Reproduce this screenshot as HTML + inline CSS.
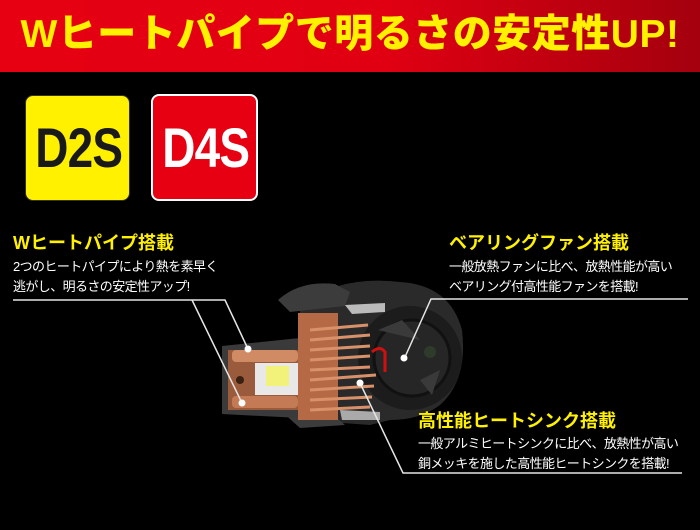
<!DOCTYPE html>
<html><head><meta charset="utf-8"><style>
html,body{margin:0;padding:0;background:#000;}
#w{position:relative;width:700px;height:530px;overflow:hidden;background:#000;font-family:"Liberation Sans","Noto Sans CJK JP",sans-serif;}
.band{position:absolute;left:0;top:0;width:700px;height:72px;background:linear-gradient(90deg,#e60012 0%,#e00012 55%,#a4000e 100%);}
.title{position:absolute;left:0;top:11px;width:700px;text-align:center;color:#fff100;font-weight:900;font-size:39px;line-height:48px;letter-spacing:0.5px;white-space:nowrap;}
.badge{position:absolute;border-radius:8px;}
.badge span{position:absolute;left:0;top:0;width:100%;text-align:center;font-weight:bold;font-size:56px;line-height:104px;transform:scaleX(0.82);letter-spacing:-1px;}
.h{position:absolute;color:#fff100;font-weight:bold;font-size:18px;line-height:22px;white-space:nowrap;}
.t{position:absolute;color:#fff;font-size:13px;line-height:20px;white-space:nowrap;letter-spacing:-0.6px;}
svg{position:absolute;left:0;top:0;}
</style></head><body><div id="w">
<div class="band"></div>
<div class="title">Wヒートパイプで明るさの安定性UP!</div>
<div class="badge" style="left:25px;top:95px;width:103px;height:104px;background:#fff100;color:#1a1a1a;border:1px solid #333;"><span>D2S</span></div>
<div class="badge" style="left:151px;top:94px;width:103px;height:103px;background:#e60012;color:#fff;border:2px solid #fff;"><span>D4S</span></div>

<svg width="700" height="530" viewBox="0 0 700 530">
<path d="M300 305 Q340 275 400 282 Q450 285 462 330 Q468 380 440 405 Q420 420 390 420 L370 425 L300 420 Z" fill="#2a2a2a"/>
<circle cx="410" cy="358" r="52" fill="#1c1c1c"/>
<circle cx="412" cy="358" r="38" fill="#262626" stroke="#111" stroke-width="3"/>
<path d="M378 330 L402 320 L420 340 Z M420 380 L440 370 L432 395 Z" fill="#3a3a3a"/>
<circle cx="430" cy="352" r="6" fill="#2e3a2a"/>
<path d="M278 300 Q300 280 335 284 L350 292 L345 306 L290 312 Z" fill="#3c3c3c"/>
<path d="M280 410 L330 412 L345 425 L300 428 Z" fill="#3c3c3c"/>
<path d="M345 305 L385 303 L385 312 L352 314 Z" fill="#bbb"/>
<path d="M340 410 L380 412 L380 420 L342 420 Z" fill="#aaa"/>
<path d="M222 346 L300 338 L300 418 L222 414 Z" fill="#3a3a3a"/>
<rect x="228" y="350" width="72" height="60" fill="#9a5a3c"/>
<rect x="232" y="350" width="66" height="12" rx="4" fill="#d08a64"/>
<rect x="232" y="396" width="66" height="12" rx="4" fill="#c47a55"/>
<rect x="255" y="363" width="45" height="32" fill="#e8e8e8"/>
<rect x="266" y="366" width="23" height="20" fill="#f2f27a"/>
<circle cx="240" cy="380" r="4" fill="#3a2010"/>
<rect x="298" y="313" width="40" height="107" fill="#b56a45"/>
<g stroke="#d9916a" stroke-width="3">
<line x1="310" y1="330" x2="368" y2="325"/>
<line x1="310" y1="340" x2="370" y2="335"/>
<line x1="310" y1="350" x2="370" y2="346"/>
<line x1="310" y1="360" x2="370" y2="356"/>
<line x1="310" y1="370" x2="370" y2="367"/>
<line x1="310" y1="380" x2="376" y2="375"/>
<line x1="310" y1="390" x2="374" y2="386"/>
<line x1="310" y1="400" x2="372" y2="397"/>
<line x1="310" y1="410" x2="370" y2="407"/>
</g>
<path d="M372 352 Q380 345 385 352 L385 372" stroke="#d01010" stroke-width="3" fill="none"/>
<g stroke="#e6e6e6" stroke-width="1.5" fill="none">
<polyline points="13,300 225,300 248,349"/>
<line x1="192" y1="300" x2="242" y2="403"/>
<polyline points="688,299 431,299 405,357"/>
<polyline points="682,473 403,473 360,383"/>
</g>
<g fill="#fff"><circle cx="248" cy="349" r="3.5"/><circle cx="242" cy="403" r="3.5"/><circle cx="404" cy="358" r="3.5"/><circle cx="360" cy="383" r="3.5"/></g>
</svg>

<div class="h" style="left:13px;top:232px;">Wヒートパイプ搭載</div>
<div class="t" style="left:13px;top:257px;">2つのヒートパイプにより熱を素早く<br>逃がし、明るさの安定性アップ!</div>
<div class="h" style="left:449px;top:232px;">ベアリングファン搭載</div>
<div class="t" style="left:449px;top:257px;">一般放熱ファンに比べ、放熱性能が高い<br>ベアリング付高性能ファンを搭載!</div>
<div class="h" style="left:418px;top:410px;">高性能ヒートシンク搭載</div>
<div class="t" style="left:418px;top:434px;">一般アルミヒートシンクに比べ、放熱性が高い<br>銅メッキを施した高性能ヒートシンクを搭載!</div>
</div></body></html>
